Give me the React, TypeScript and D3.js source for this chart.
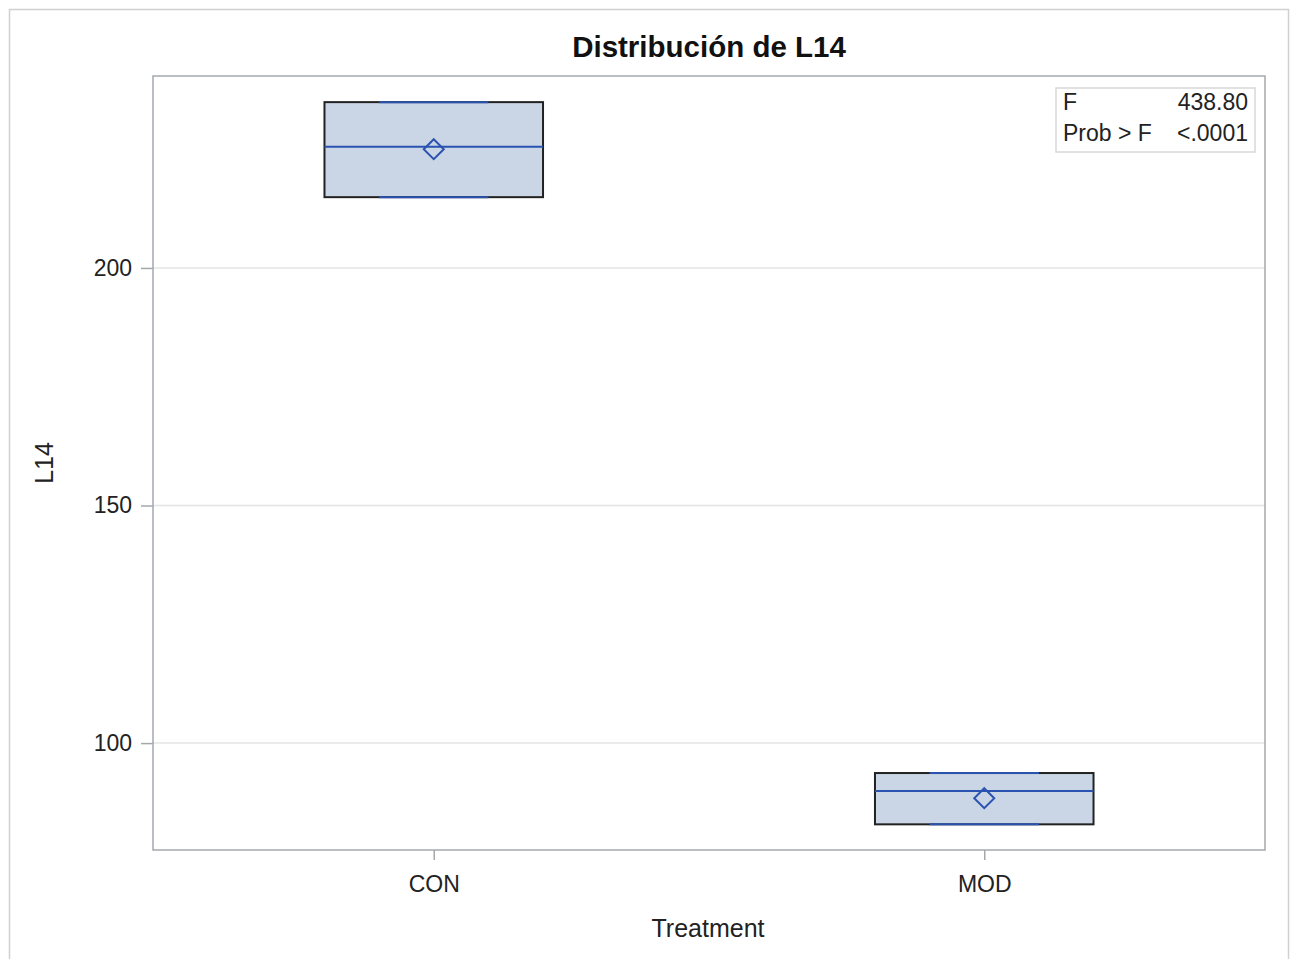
import React from 'react';
import * as d3 from 'd3';

const groups = ['CON', 'MOD'];
const q1 = [214.9, 82.9];
const median = [225.5, 89.9];
const q3 = [234.9, 93.7];
const minVal = [214.9, 82.9];
const maxVal = [234.9, 93.7];
const means = [225.0, 88.4];
const yTicks = [100, 150, 200];
const statLabels = ['F', 'Prob > F'];
const statValues = ['438.80', '<.0001'];

const font = '"Liberation Sans", Arial, sans-serif';
const blue = '#2a52b0';

const drawChart = (ref: React.RefObject<SVGSVGElement>) => {
    const svg = d3.select(ref.current);
    svg.selectAll('*').remove();

    const margin = { left: 153, right: 1265, top: 76, bottom: 850 };

    // outer frame
    svg.append('rect')
        .attr('x', 9.5).attr('y', 9.5)
        .attr('width', 1279).attr('height', 980)
        .attr('fill', 'white').attr('stroke', '#d0d0d0').attr('stroke-width', 1.5);

    const x = d3.scalePoint()
        .domain(groups)
        .range([margin.left, margin.right])
        .padding(0.51);

    const y = d3.scaleLinear()
        .domain([77.5, 240.4])
        .range([margin.bottom, margin.top]);

    // grid lines
    svg.append('g')
        .selectAll('line')
        .data(yTicks)
        .enter().append('line')
        .attr('x1', margin.left).attr('x2', margin.right)
        .attr('y1', d => y(d)).attr('y2', d => y(d))
        .attr('stroke', '#e4e4e4').attr('stroke-width', 1.5);

    const step = x.step();
    const boxW = step * 0.397;

    groups.forEach((g, i) => {
        const cx = x(g) as number;
        svg.append('rect')
            .attr('x', cx - boxW / 2).attr('y', y(q3[i]))
            .attr('width', boxW).attr('height', y(q1[i]) - y(q3[i]))
            .attr('fill', '#cad5e5').attr('stroke', '#222').attr('stroke-width', 2);
        // whisker caps
        [minVal[i], maxVal[i]].forEach(v => {
            svg.append('line')
                .attr('x1', cx - boxW / 4).attr('x2', cx + boxW / 4)
                .attr('y1', y(v)).attr('y2', y(v))
                .attr('stroke', blue).attr('stroke-width', 2);
        });
        // median
        svg.append('line')
            .attr('x1', cx - boxW / 2).attr('x2', cx + boxW / 2)
            .attr('y1', y(median[i])).attr('y2', y(median[i]))
            .attr('stroke', blue).attr('stroke-width', 2);
        // mean diamond
        const my = y(means[i]);
        svg.append('path')
            .attr('d', `M${cx},${my - 10}L${cx + 10},${my}L${cx},${my + 10}L${cx - 10},${my}Z`)
            .attr('fill', 'none').attr('stroke', blue).attr('stroke-width', 2);
    });

    // plot frame
    svg.append('rect')
        .attr('x', margin.left).attr('y', margin.top)
        .attr('width', margin.right - margin.left).attr('height', margin.bottom - margin.top)
        .attr('fill', 'none').attr('stroke', '#a4a8ad').attr('stroke-width', 1.5);

    // y axis
    const yAxis = svg.append('g')
        .attr('transform', `translate(${margin.left},0)`)
        .call(d3.axisLeft(y).tickValues(yTicks).tickSize(12).tickPadding(9));
    yAxis.select('.domain').remove();
    yAxis.selectAll('line').attr('stroke', '#a4a8ad').attr('stroke-width', 1.5);
    yAxis.selectAll('text').attr('font-family', font).attr('font-size', 23).attr('fill', '#222');

    // x axis
    const xAxis = svg.append('g')
        .attr('transform', `translate(0,${margin.bottom})`)
        .call(d3.axisBottom(x).tickSize(10).tickPadding(16));
    xAxis.select('.domain').remove();
    xAxis.selectAll('line').attr('stroke', '#a4a8ad').attr('stroke-width', 1.5);
    xAxis.selectAll('text').attr('font-family', font).attr('font-size', 23).attr('fill', '#222');

    // title
    svg.append('text')
        .attr('x', 709).attr('y', 57)
        .attr('text-anchor', 'middle')
        .attr('font-family', font).attr('font-size', 29.5).attr('font-weight', 'bold')
        .attr('fill', '#111')
        .text('Distribución de L14');

    svg.append('text')
        .attr('x', 708).attr('y', 937)
        .attr('text-anchor', 'middle')
        .attr('font-family', font).attr('font-size', 25).attr('fill', '#222')
        .text('Treatment');

    svg.append('text')
        .attr('transform', `translate(53,463) rotate(-90)`)
        .attr('text-anchor', 'middle')
        .attr('font-family', font).attr('font-size', 25).attr('fill', '#222')
        .text('L14');

    // stats inset
    svg.append('rect')
        .attr('x', 1056).attr('y', 88).attr('width', 199).attr('height', 64)
        .attr('fill', 'white').attr('stroke', '#d8d8d8').attr('stroke-width', 1.5);
    statLabels.forEach((s, i) => {
        svg.append('text')
            .attr('x', 1063).attr('y', 110 + i * 31)
            .attr('font-family', font).attr('font-size', 23).attr('fill', '#222')
            .text(s);
        svg.append('text')
            .attr('x', 1248).attr('y', 110 + i * 31)
            .attr('text-anchor', 'end')
            .attr('font-family', font).attr('font-size', 23).attr('fill', '#222')
            .text(statValues[i]);
    });
};

function App() {
    const ref = React.useRef<SVGSVGElement>(null);
    React.useEffect(() => {
        drawChart(ref);
    }, []);
    return (
        <svg ref={ref} width={1293} height={959}
            style={{ position: 'absolute', left: 0, top: 0, background: 'white' }} />
    );
}

export default App;
